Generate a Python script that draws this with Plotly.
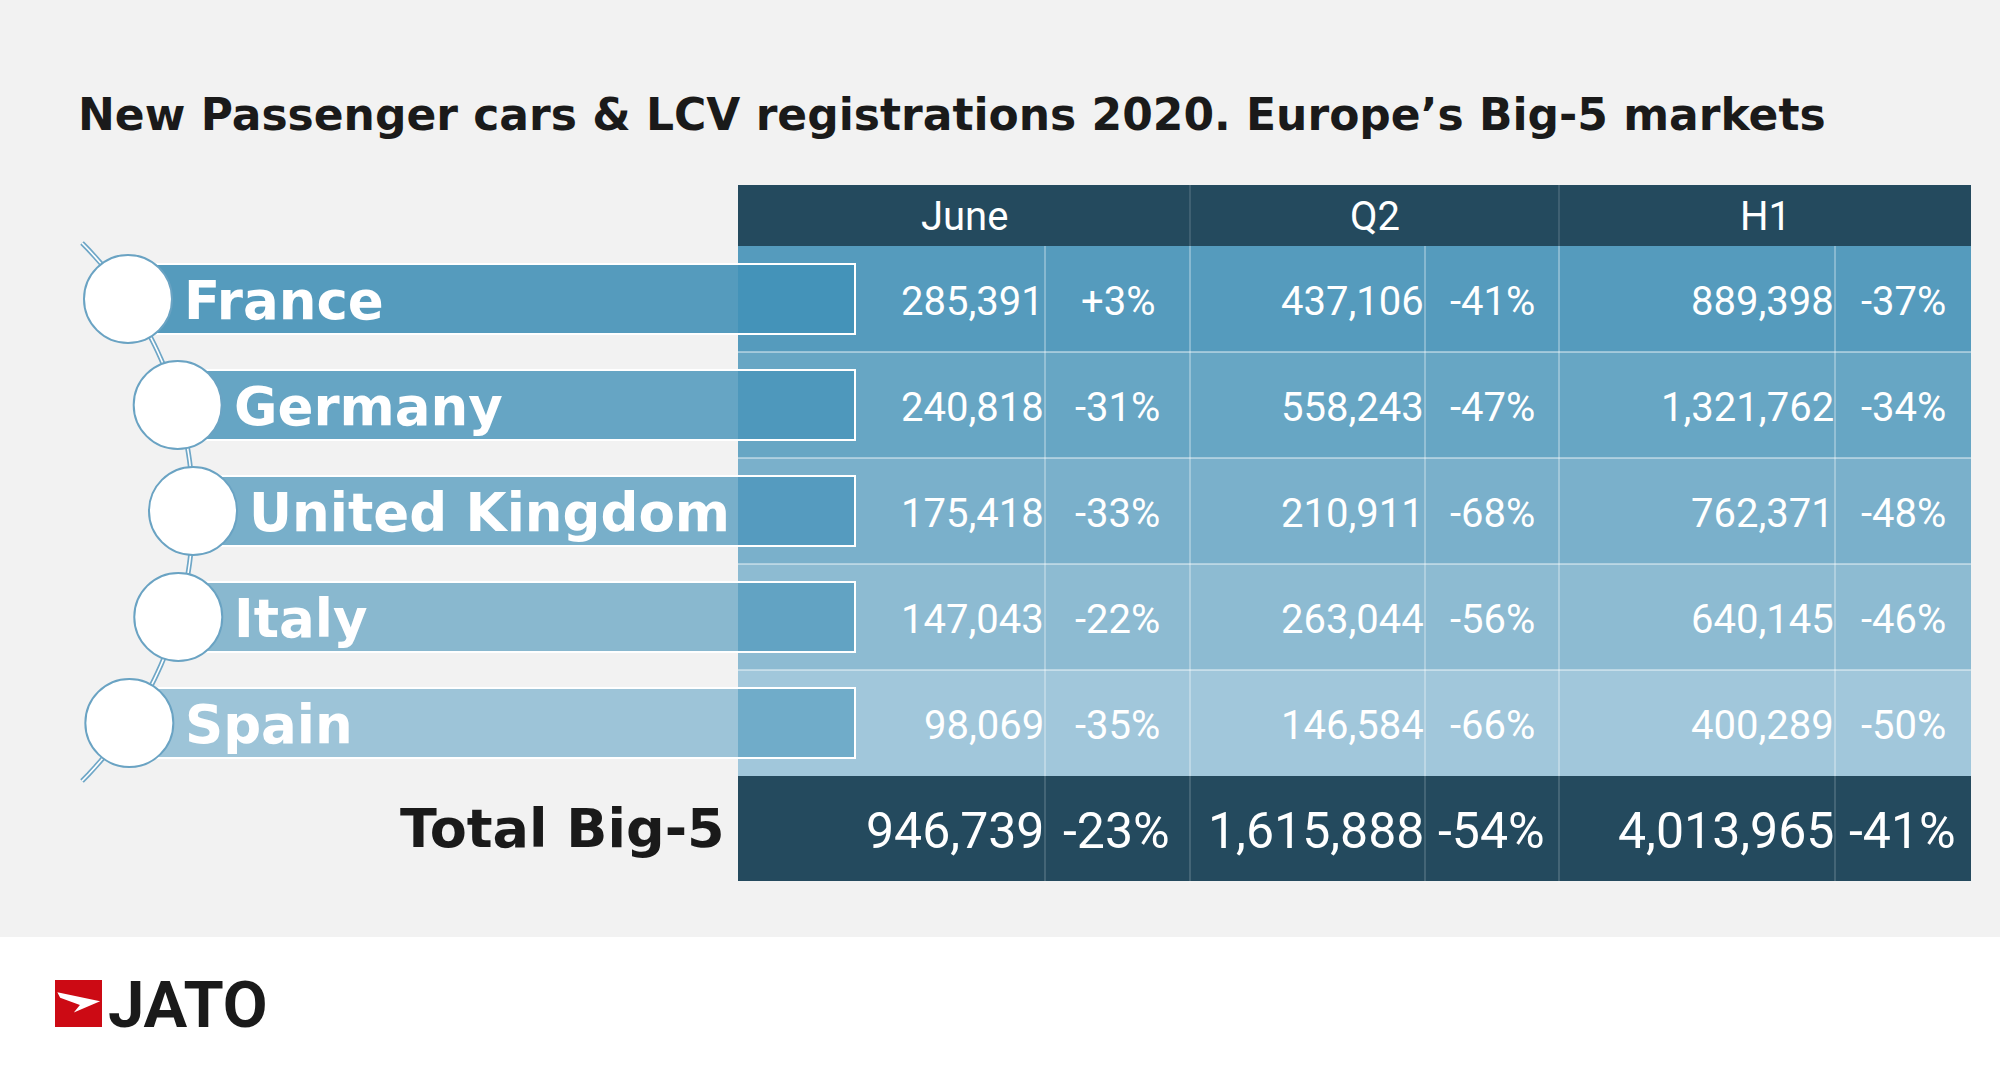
import numpy as np
import plotly.graph_objects as go

# ---------------- data ----------------
title_text = "New Passenger cars & LCV registrations 2020. Europe’s Big-5 markets"
countries = ["France", "Germany", "United Kingdom", "Italy", "Spain"]
periods = ["June", "Q2", "H1"]
june_units = [285391, 240818, 175418, 147043, 98069]
june_pct = [3, -31, -33, -22, -35]
q2_units = [437106, 558243, 210911, 263044, 146584]
q2_pct = [-41, -47, -68, -56, -66]
h1_units = [889398, 1321762, 762371, 640145, 400289]
h1_pct = [-37, -34, -48, -46, -50]
total_label = "Total Big-5"
total_units = [946739, 1615888, 4013965]
total_pct = [-23, -54, -41]
brand = "JATO"

units_by_period = [june_units, q2_units, h1_units]
pct_by_period = [june_pct, q2_pct, h1_pct]

# ---------------- style / layout ----------------
W, H = 2000, 1065
BG_GRAY = "#F2F2F2"
GRAY_BOTTOM = 937
DARK = "#244A5E"
col_edges = [738, 1045, 1190, 1425, 1559, 1835, 1971]
header_top, header_bot = 185, 246
row_h = 106
bar_h = 70
bar_right = 855
circle_r = 44
row_fill = ["#559BBD", "#67A6C4", "#7AB0CB", "#8DBBD2", "#A1C7DB"]
bar_fill = ["#559BBD", "#66A5C4", "#78AFCA", "#89B8CF", "#9DC4D8"]
overlap_fill = ["#4493B9", "#4E98BC", "#559BBF", "#62A3C3", "#70ACC9"]
arc_cx, arc_cy, arc_R = -188.5, 512.0, 381.5
arc_y0, arc_y1 = 243, 781

def fmt_units(v):
    return f"{v:,}"

def fmt_pct(p):
    return f"{p:+d}%"

shapes = []
anns = []

# background
shapes.append(dict(type="rect", x0=0, x1=W, y0=0, y1=GRAY_BOTTOM,
                   fillcolor=BG_GRAY, line=dict(width=0)))

# header
shapes.append(dict(type="rect", x0=col_edges[0], x1=col_edges[-1], y0=header_top, y1=header_bot,
                   fillcolor=DARK, line=dict(width=0)))
for gi, p in enumerate(periods):
    x0, x1 = col_edges[2 * gi], col_edges[2 * gi + 2]
    anns.append(dict(x=(x0 + x1) / 2, y=(header_top + header_bot) / 2 + 1, text=p,
                     showarrow=False, xanchor="center", yanchor="middle",
                     font=dict(family="Roboto", size=40, color="white")))
for e in (col_edges[2], col_edges[4]):
    shapes.append(dict(type="line", x0=e, x1=e, y0=header_top, y1=header_bot,
                       line=dict(color="rgba(255,255,255,0.25)", width=1)))

n = len(countries)
row_tops = [header_bot + i * row_h for i in range(n)]
total_top = header_bot + n * row_h
total_bot = total_top + row_h - 1

# data rows
for i in range(n):
    y0 = row_tops[i]
    shapes.append(dict(type="rect", x0=col_edges[0], x1=col_edges[-1], y0=y0, y1=y0 + row_h,
                       fillcolor=row_fill[i], line=dict(width=0)))
# grid lines in data rows
for i in range(1, n):
    y = row_tops[i]
    shapes.append(dict(type="line", x0=col_edges[0], x1=col_edges[-1], y0=y, y1=y,
                       line=dict(color="rgba(255,255,255,0.55)", width=1.5)))
for e in col_edges[1:-1]:
    shapes.append(dict(type="line", x0=e, x1=e, y0=header_bot, y1=total_top,
                       line=dict(color="rgba(255,255,255,0.6)", width=1)))

# total row
shapes.append(dict(type="rect", x0=col_edges[0], x1=col_edges[-1], y0=total_top, y1=total_bot,
                   fillcolor=DARK, line=dict(width=0)))
for e in col_edges[1:-1]:
    shapes.append(dict(type="line", x0=e, x1=e, y0=total_top, y1=total_bot,
                       line=dict(color="rgba(255,255,255,0.3)", width=1)))

# values
for gi in range(3):
    xr = col_edges[2 * gi + 1]
    xc = (col_edges[2 * gi + 1] + col_edges[2 * gi + 2]) / 2
    for i in range(n):
        yc = row_tops[i] + row_h / 2 + 2
        anns.append(dict(x=xr + 1, y=yc, text=fmt_units(units_by_period[gi][i]), showarrow=False,
                         xanchor="right", yanchor="middle",
                         font=dict(family="Roboto", size=40, color="white")))
        anns.append(dict(x=xc, y=yc, text=fmt_pct(pct_by_period[gi][i]), showarrow=False,
                         xanchor="center", yanchor="middle",
                         font=dict(family="Roboto", size=40, color="white")))
    yt = (total_top + total_bot) / 2 + 2
    anns.append(dict(x=xr + 1, y=yt, text=fmt_units(total_units[gi]), showarrow=False,
                     xanchor="right", yanchor="middle",
                     font=dict(family="Roboto", size=50, color="white")))
    anns.append(dict(x=xc - 1, y=yt, text=fmt_pct(total_pct[gi]), showarrow=False,
                     xanchor="center", yanchor="middle",
                     font=dict(family="Roboto", size=50, color="white")))

# bars + circles along arc
row_centers = [row_tops[i] + row_h / 2 for i in range(n)]
circle_x = [arc_cx + np.sqrt(arc_R ** 2 - (yc - arc_cy) ** 2) for yc in row_centers]

for i in range(n):
    yc = row_centers[i]
    b0, b1 = yc - bar_h / 2, yc + bar_h / 2
    shapes.append(dict(type="rect", x0=circle_x[i], x1=bar_right, y0=b0, y1=b1,
                       fillcolor=bar_fill[i], line=dict(width=0)))
    shapes.append(dict(type="rect", x0=col_edges[0], x1=bar_right, y0=b0, y1=b1,
                       fillcolor=overlap_fill[i], line=dict(width=0)))
    shapes.append(dict(type="rect", x0=circle_x[i], x1=bar_right, y0=b0, y1=b1,
                       fillcolor="rgba(0,0,0,0)", line=dict(color="white", width=2)))

# connector arc (double line)
ys = np.linspace(arc_y0, arc_y1, 80)
xs = arc_cx + np.sqrt(arc_R ** 2 - (ys - arc_cy) ** 2)
path = "M " + " L ".join(f"{x:.2f},{y:.2f}" for x, y in zip(xs, ys))
shapes.append(dict(type="path", path=path, line=dict(color="#6FA7C7", width=5)))
shapes.append(dict(type="path", path=path, line=dict(color="white", width=1.6)))

for i in range(n):
    yc = row_centers[i]
    cx = circle_x[i]
    shapes.append(dict(type="circle", x0=cx - circle_r, x1=cx + circle_r,
                       y0=yc - circle_r, y1=yc + circle_r,
                       fillcolor="white", line=dict(color="#6AA3C3", width=2)))
    anns.append(dict(x=cx + 54, y=yc + 1, text=f"<b>{countries[i]}</b>", showarrow=False,
                     xanchor="left", yanchor="middle",
                     font=dict(family="DejaVu Sans", size=53, color="white")))

# total label
anns.append(dict(x=727, y=(total_top + total_bot) / 2, text=f"<b>{total_label}</b>",
                 showarrow=False, xanchor="right", yanchor="middle",
                 font=dict(family="DejaVu Sans", size=54, color="#1A1A1A")))

# title
anns.append(dict(x=76, y=114, text=f"<b>{title_text}</b>", showarrow=False,
                 xanchor="left", yanchor="middle",
                 font=dict(family="DejaVu Sans", size=44, color="#1A1A1A")))

# logo
lx0, ly0, ls = 55, 980, 47
shapes.append(dict(type="rect", x0=lx0, x1=lx0 + ls, y0=ly0, y1=ly0 + ls,
                   fillcolor="#CC0A14", line=dict(width=0)))
arrow_pts = [(0.05, 0.26), (0.96, 0.45), (0.40, 0.69), (0.53, 0.53), (0.11, 0.38)]
apath = "M " + " L ".join(f"{lx0 + px * ls:.2f},{ly0 + py * ls:.2f}" for px, py in arrow_pts) + " Z"
shapes.append(dict(type="path", path=apath, fillcolor="white", line=dict(width=0)))
anns.append(dict(x=106, y=ly0 + ls / 2 + 1, text=f"<b>{brand}</b>", showarrow=False,
                 xanchor="left", yanchor="middle",
                 font=dict(family="Roboto", size=65, color="#1A1A1A")))

fig = go.Figure(go.Scatter(x=[], y=[], mode="markers", showlegend=False))
fig.update_layout(
    width=W, height=H,
    margin=dict(l=0, r=0, t=0, b=0, pad=0),
    paper_bgcolor="white", plot_bgcolor="white",
    xaxis=dict(range=[0, W], visible=False, fixedrange=True),
    yaxis=dict(range=[H, 0], visible=False, fixedrange=True),
    shapes=shapes, annotations=anns, showlegend=False,
)
fig.write_html("out.html", config={"displayModeBar": False},
               post_script="document.body.style.margin='0';document.body.style.overflow='hidden';")
